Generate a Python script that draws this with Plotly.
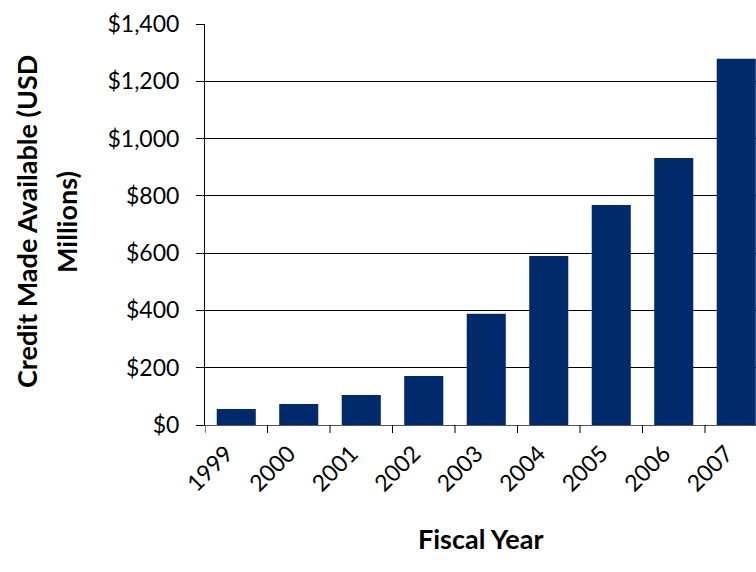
import plotly.graph_objects as go

years = ["1999", "2000", "2001", "2002", "2003", "2004", "2005", "2006", "2007"]
credit = [56, 73, 105, 171, 388, 590, 768, 932, 1279]
y_ticks = [0, 200, 400, 600, 800, 1000, 1200, 1400]
y_tick_labels = ["$0", "$200", "$400", "$600", "$800", "$1,000", "$1,200", "$1,400"]
y_title_lines = ["Credit Made Available (USD", "Millions)"]

FONT = "Lato, 'Open Sans', sans-serif"

fig = go.Figure()
fig.add_trace(go.Bar(
    x=list(range(len(years))),
    y=credit,
    marker=dict(color="#002A6C", line=dict(width=0)),
    width=0.625,
    hoverinfo="skip",
))

fig.update_layout(
    width=756,
    height=572,
    margin=dict(l=205, r=0, t=24, b=147, autoexpand=False),
    paper_bgcolor="white",
    plot_bgcolor="white",
    showlegend=False,
    font=dict(family=FONT, size=23, color="black"),
)

fig.update_xaxes(
    range=[-0.5, 8.316],
    tickmode="array",
    tickvals=list(range(len(years))),
    ticktext=years,
    tickangle=-45,
    ticks="",
    showgrid=False,
    showline=True,
    linecolor="#555555",
    linewidth=1,
    tickfont=dict(family=FONT, size=23, color="black"),
    zeroline=False,
    ticklabelstandoff=5,
    ticklabelshift=-10,
)

# category boundary tick marks below the axis
for i in range(len(years)):
    fig.add_shape(
        type="line", xref="x", yref="paper",
        x0=i - 0.5, x1=i - 0.5, y0=0, y1=-8 / 401,
        line=dict(color="black", width=1),
    )

fig.update_yaxes(
    range=[0, 1400],
    tickmode="array",
    tickvals=y_ticks,
    ticktext=y_tick_labels,
    ticks="outside",
    ticklen=8,
    tickcolor="black",
    showgrid=True,
    gridcolor="black",
    gridwidth=1,
    showline=True,
    linecolor="black",
    linewidth=1,
    zeroline=False,
    ticklabelstandoff=12,
    tickfont=dict(family=FONT, size=23, color="black"),
)

for line_text, cx in zip(y_title_lines, [26, 66]):
    fig.add_annotation(
        text="<b>" + line_text + "</b>",
        xref="paper", yref="paper",
        x=(cx - 205) / 551, y=(425 - 222) / 401,
        xanchor="center", yanchor="middle",
        textangle=-90,
        showarrow=False,
        font=dict(family=FONT, size=27, color="black"),
    )

fig.add_annotation(
    text="<b>Fiscal Year</b>",
    xref="paper", yref="paper",
    x=(481 - 205) / 551, y=(425 - 538) / 401,
    xanchor="center", yanchor="middle",
    showarrow=False,
    font=dict(family=FONT, size=27, color="black"),
)

fig.write_html(
    "out.html",
    config={"displayModeBar": False},
    post_script="document.body.style.margin='0px';",
)
